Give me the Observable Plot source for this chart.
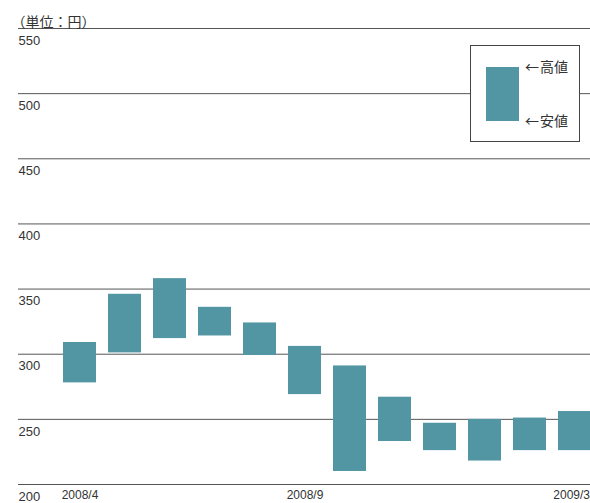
<!DOCTYPE html>
<html><head><meta charset="utf-8">
<script src="https://cdn.jsdelivr.net/npm/d3@7"></script>
<script src="https://cdn.jsdelivr.net/npm/@observablehq/plot@0.6"></script>
<style>
body{margin:0;background:#fff;}
#wrap{position:relative;width:590px;height:503px;overflow:hidden;font-family:"Liberation Sans",Arial,sans-serif;}
#legend{position:absolute;left:470px;top:45px;width:108px;height:95px;border:1.5px solid #444;background:#fff;box-sizing:content-box;}
#sw{position:absolute;left:14.5px;top:20.5px;width:33px;height:54px;background:#5295a3;}
.lab{position:absolute;left:54px;font-family:"Noto Sans CJK JP",sans-serif;font-size:14px;line-height:14px;color:#333;white-space:nowrap;}
.lab .t{margin-left:1px;}
</style></head>
<body>
<div id="wrap"></div>
<script>
const months = ["2008/4","2008/5","2008/6","2008/7","2008/8","2008/9","2008/10","2008/11","2008/12","2009/1","2009/2","2009/3"];
const highs = [309,346,358,336,324,306,291,267,247,250,251,256];
const lows  = [278,301,312,314,299,269,210,233,226,218,226,226];
const yTicks = [200,250,300,350,400,450,500,550];
const xLabels = ["2008/4","2008/9"];
const xLabelLast = ["2009/3"];
const unitLabel = "（単位：円）";
const legendHigh = "高値";
const legendLow = "安値";

const data = months.map((m,i)=>({month:m, high:highs[i], low:lows[i]}));
const xFont = "Liberation Sans Narrow, Liberation Sans, sans-serif";

const chart = Plot.plot({
  width:590, height:503,
  marginTop:28, marginBottom:19, marginLeft:18, marginRight:0,
  style:{fontFamily:"Liberation Sans, Arial, sans-serif", background:"#fff"},
  x:{type:"band", domain:months, range:[57.2,597.2], paddingInner:0.267, paddingOuter:0.1335, axis:null},
  y:{domain:[200,550], axis:null},
  marks:[
    Plot.ruleY(yTicks, {stroke:"#555", strokeWidth:1}),
    Plot.barY(data, {x:"month", y1:"low", y2:"high", fill:"#5295a3"}),
    Plot.text(yTicks, {y:d=>d, text:d=>String(d), frameAnchor:"left", textAnchor:"start", dy:12, fontSize:13, fill:"#333"}),
    Plot.text(xLabels, {x:d=>d, y:()=>200, text:d=>d, dy:11, fontSize:12, fill:"#333", fontFamily:xFont}),
    Plot.text(xLabelLast, {x:d=>d, y:()=>200, text:d=>d, dy:11, dx:15, textAnchor:"end", fontSize:12, fill:"#333", fontFamily:xFont}),
    Plot.text([unitLabel], {frameAnchor:"top-left", textAnchor:"start", text:d=>d, dy:-11, dx:-7, fontSize:14, fill:"#333", fontFamily:"Noto Sans CJK JP, sans-serif"})
  ]
});
const wrap = document.getElementById("wrap");
wrap.appendChild(chart);
const lg = document.createElement("div");
lg.id = "legend";
lg.innerHTML = `<div id="sw"></div><span class="lab" style="top:13px">←<span class="t">${legendHigh}</span></span><span class="lab" style="top:67px">←<span class="t">${legendLow}</span></span>`;
wrap.appendChild(lg);
</script>
</body></html>
